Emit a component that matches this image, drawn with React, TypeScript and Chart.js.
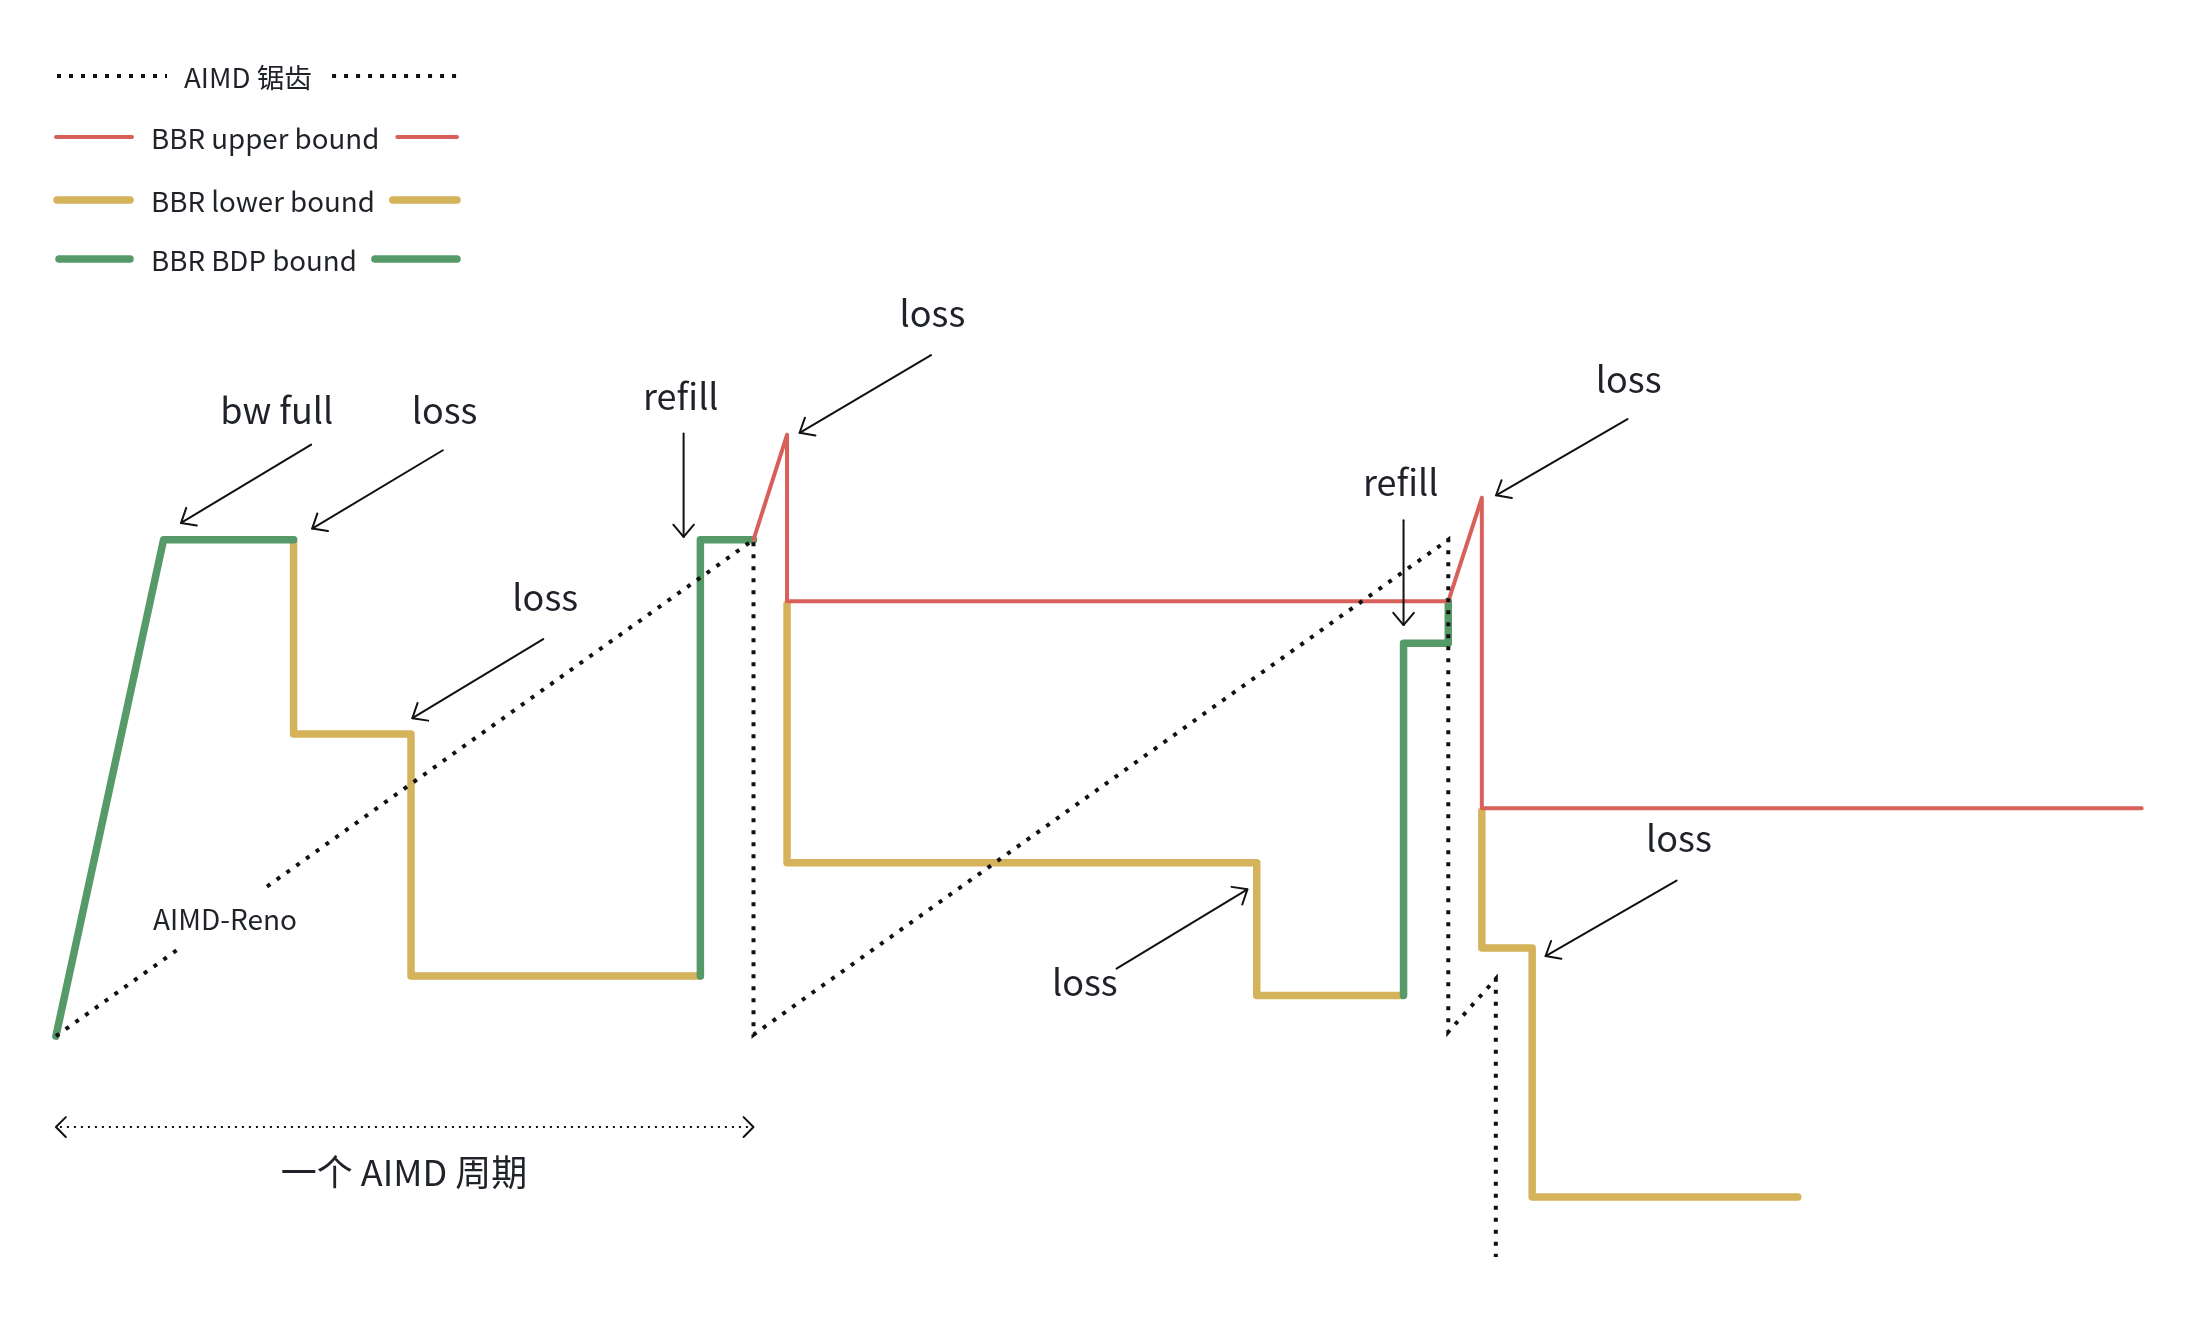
import React, { useEffect, useRef } from "react";
import { Chart, registerables } from "chart.js";

Chart.register(...registerables);

// ---------- data (x: time, y: rate; diagram units, y grows downward) ----------
const seriesLabels = ["AIMD 锯齿", "BBR upper bound", "BBR lower bound", "BBR BDP bound"];

const aimdSawtooth: [number, number | null][] = [
  [40, 741], [130, 677], [160, null], [191, 634], [539, 386], [539, 740],
  [1036, 386], [1036, 738], [1070, 700], [1070, 899],
];
const upperBound: [number, number | null][] = [
  [539, 386], [563, 311], [563, 430], [1036, 430], [1060, 356], [1060, 578], [1532, 578],
];
const lowerBound: [number, number | null][] = [
  [210, 386], [210, 525], [294, 525], [294, 698], [501, 698], [530, null],
  [563, 432], [563, 617], [899, 617], [899, 712], [1003, 712], [1030, null],
  [1060, 580], [1060, 678], [1096, 678], [1096, 856], [1286, 856],
];
const bdpBound: [number, number | null][] = [
  [40, 741], [117, 386], [210, 386], [300, null],
  [501, 698], [501, 386], [539, 386], [700, null],
  [1004, 712], [1004, 460], [1036, 460], [1036, 430],
];

const annotationLabels = ["bw full", "loss", "loss", "refill", "loss", "loss", "refill", "loss", "loss"];
const annotationX = [198, 318, 390, 487, 667, 1165, 1002, 1201, 776];
const annotationY = [303, 303, 437, 293, 234, 281, 355, 609, 712];
const arrowFrom: [number, number][] = [
  [222.6, 318], [316.8, 322], [388.6, 457], [489, 310], [666, 254],
  [1164.2, 299.7], [1004, 372], [1199.3, 629.7], [798.7, 692.7],
];
const arrowTo: [number, number][] = [
  [129.5, 374], [223.3, 378], [295, 513.6], [489, 384], [572, 309.5],
  [1070.2, 354.2], [1004, 447], [1105.6, 683.7], [892.3, 636],
];

const renoLabel = "AIMD-Reno";
const renoPos: [number, number] = [161, 665];
const periodLabel = "一个 AIMD 周期";
const periodStart: [number, number] = [40, 806];
const periodEnd: [number, number] = [539, 806];
const periodLabelPos: [number, number] = [289, 848];

// ---------- styles ----------
const FONT = '"Noto Sans CJK SC", "Noto Sans", sans-serif';
const TEXT = "#1f2329";
const BLACK = "#111111";
const RED = "#d8605a";
const YELLOW = "#d5b35a";
const GREEN = "#559a68";

const toPts = (arr: [number, number | null][]) => arr.map(([x, y]) => ({ x, y }));

function arrowHead(ctx: CanvasRenderingContext2D, x1: number, y1: number, x2: number, y2: number, len: number, ang: number) {
  const a = Math.atan2(y2 - y1, x2 - x1);
  ctx.beginPath();
  ctx.moveTo(x2 - len * Math.cos(a - ang), y2 - len * Math.sin(a - ang));
  ctx.lineTo(x2, y2);
  ctx.lineTo(x2 - len * Math.cos(a + ang), y2 - len * Math.sin(a + ang));
  ctx.stroke();
}

// legend layout (pixels)
const legendRows = [
  { y: 76, leftStart: 57, leftEnd: 167, textX: 184, gap: 20 },
  { y: 137, leftStart: 56, leftEnd: 132, textX: 151, gap: 18 },
  { y: 200, leftStart: 57, leftEnd: 130, textX: 151, gap: 18 },
  { y: 259, leftStart: 59, leftEnd: 130, textX: 151, gap: 18 },
];
const legendRight = 457;

const diagramPlugin = {
  id: "diagram",
  afterDatasetsDraw(chart: any) {
    const { ctx, scales } = chart;
    const px = (v: number) => scales.x.getPixelForValue(v);
    const py = (v: number) => scales.y.getPixelForValue(v);
    ctx.save();

    // annotation arrows
    ctx.strokeStyle = BLACK;
    ctx.lineWidth = 2;
    ctx.lineCap = "round";
    ctx.lineJoin = "round";
    ctx.setLineDash([]);
    arrowFrom.forEach((f, i) => {
      const t = arrowTo[i];
      const x1 = px(f[0]), y1 = py(f[1]), x2 = px(t[0]), y2 = py(t[1]);
      ctx.beginPath();
      ctx.moveTo(x1, y1);
      ctx.lineTo(x2, y2);
      ctx.stroke();
      arrowHead(ctx, x1, y1, x2, y2, 16, (40 * Math.PI) / 180);
    });

    // annotation labels
    ctx.fillStyle = TEXT;
    ctx.textAlign = "center";
    ctx.textBaseline = "alphabetic";
    ctx.font = `36px ${FONT}`;
    annotationLabels.forEach((l, i) => {
      ctx.fillText(l, px(annotationX[i]), py(annotationY[i]));
    });
    ctx.font = `28px ${FONT}`;
    ctx.fillText(renoLabel, px(renoPos[0]), py(renoPos[1]));

    // one AIMD period: dotted double arrow
    const sx = px(periodStart[0]), sy = py(periodStart[1]);
    const ex = px(periodEnd[0]), ey = py(periodEnd[1]);
    ctx.lineWidth = 2;
    ctx.lineCap = "butt";
    ctx.setLineDash([2, 5]);
    ctx.beginPath();
    ctx.moveTo(sx + 4, sy);
    ctx.lineTo(ex - 4, ey);
    ctx.stroke();
    ctx.setLineDash([]);
    ctx.lineCap = "round";
    arrowHead(ctx, ex, ey, sx, sy, 14, (45 * Math.PI) / 180);
    arrowHead(ctx, sx, sy, ex, ey, 14, (45 * Math.PI) / 180);
    ctx.font = `36px ${FONT}`;
    ctx.fillText(periodLabel, px(periodLabelPos[0]), py(periodLabelPos[1]));

    // legend: sample line, label, sample line
    ctx.font = `27.7px ${FONT}`;
    ctx.textAlign = "left";
    chart.data.datasets.forEach((ds: any, i: number) => {
      const r = legendRows[i];
      const tw = ctx.measureText(ds.label).width;
      const rs = r.textX + tw + r.gap;
      ctx.strokeStyle = ds.borderColor;
      ctx.lineWidth = ds.borderWidth;
      if (ds.borderDash && ds.borderDash.length) {
        ctx.setLineDash(ds.borderDash);
        ctx.lineCap = "butt";
      } else {
        ctx.setLineDash([]);
        ctx.lineCap = "round";
      }
      ctx.beginPath();
      ctx.moveTo(r.leftStart, r.y);
      ctx.lineTo(r.leftEnd, r.y);
      ctx.moveTo(rs, r.y);
      ctx.lineTo(legendRight, r.y);
      ctx.stroke();
      ctx.fillStyle = TEXT;
      ctx.fillText(ds.label, r.textX, r.y + 12);
    });

    ctx.restore();
  },
};

export default function App() {
  const ref = useRef<HTMLCanvasElement>(null);
  useEffect(() => {
    const common = { pointRadius: 0, pointHoverRadius: 0, tension: 0, fill: false, spanGaps: false };
    const chart = new Chart(ref.current as HTMLCanvasElement, {
      type: "line",
      data: {
        datasets: [
          {
            ...common,
            label: seriesLabels[0],
            data: toPts(aimdSawtooth),
            borderColor: BLACK,
            borderWidth: 4,
            borderDash: [4, 8],
            borderCapStyle: "butt",
            borderJoinStyle: "miter",
            order: 0,
          },
          {
            ...common,
            label: seriesLabels[1],
            data: toPts(upperBound),
            borderColor: RED,
            borderWidth: 4,
            borderCapStyle: "round",
            borderJoinStyle: "round",
            order: 1,
          },
          {
            ...common,
            label: seriesLabels[2],
            data: toPts(lowerBound),
            borderColor: YELLOW,
            borderWidth: 7.5,
            borderCapStyle: "round",
            borderJoinStyle: "round",
            order: 3,
          },
          {
            ...common,
            label: seriesLabels[3],
            data: toPts(bdpBound),
            borderColor: GREEN,
            borderWidth: 7.5,
            borderCapStyle: "round",
            borderJoinStyle: "round",
            order: 2,
          },
        ] as any,
      },
      options: {
        responsive: false,
        animation: false,
        layout: { padding: 0 },
        events: [],
        scales: {
          x: { type: "linear", min: 0, max: 1568, display: false },
          y: { type: "linear", min: 0, max: 944, reverse: true, display: false },
        },
        plugins: {
          legend: { display: false },
          tooltip: { enabled: false },
        },
      },
      plugins: [diagramPlugin],
    });
    return () => chart.destroy();
  }, []);
  return (
    <div style={{ position: "fixed", left: 0, top: 0, width: 2192, height: 1320, background: "#fff" }}>
      <canvas ref={ref} width={2192} height={1320} style={{ display: "block", width: 2192, height: 1320 }} />
    </div>
  );
}
